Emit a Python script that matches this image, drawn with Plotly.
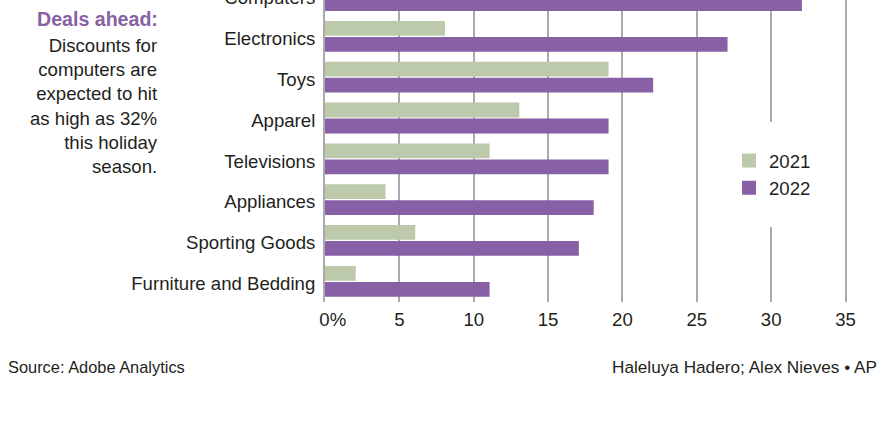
import plotly.graph_objects as go

# ---------------- data ----------------
categories = ["Furniture and Bedding", "Sporting Goods", "Appliances", "Televisions",
              "Apparel", "Toys", "Electronics", "Computers"]
values_2021 = [2, 6, 4, 11, 13, 19, 8, 14]
values_2022 = [11, 17, 18, 19, 19, 22, 27, 32]
x_tickvals = [0, 5, 10, 15, 20, 25, 30, 35]
x_ticktext = ["\u00a0\u00a0\u00a00%", "5", "10", "15", "20", "25", "30", "35"]

# ---------------- style ----------------
GREEN = "#bdc9ab"
PURPLE = "#8760a5"
GRID = "#a9a9ae"
TEXT = "#231f20"
FONT = "Liberation Sans, Arial, Helvetica, sans-serif"

W, H = 883, 443
L, R, T, B = 325, 36, 0, 141
plot_w = W - L - R
plot_h = H - T - B

pitch = 40.83                    # px per category
y_lo = -0.507
y_hi = y_lo + plot_h / pitch
lab_off = 0.3                    # helper offset for label axis


def xp(px):
    return (px - L) / plot_w


def yp(py):
    return (T + plot_h - py) / plot_h


fig = go.Figure()
fig.add_trace(go.Bar(y=categories, x=values_2022, name="2022", orientation="h",
                     marker=dict(color=PURPLE, line=dict(color=PURPLE, width=2))))
fig.add_trace(go.Bar(y=categories, x=values_2021, name="2021", orientation="h",
                     marker=dict(color=GREEN, line=dict(color=GREEN, width=2))))
# carrier for the category-label axis (no marks)
fig.add_trace(go.Scatter(x=[None], y=[None], yaxis="y2", mode="markers",
                         showlegend=False, hoverinfo="skip"))

fig.update_layout(
    width=W, height=H,
    margin=dict(l=L, r=R, t=T, b=B, pad=0, autoexpand=False),
    paper_bgcolor="white", plot_bgcolor="white",
    barmode="group", bargap=0.216, bargroupgap=0.2,
    font=dict(family=FONT, size=18.6, color=TEXT),
    showlegend=True,
    legend=dict(traceorder="reversed", x=xp(709), xanchor="left", y=yp(122), yanchor="top",
                bgcolor="white", bordercolor="white", borderwidth=20,
                font=dict(family=FONT, size=18.6, color=TEXT)),
    xaxis=dict(range=[0, 35.1], tickvals=x_tickvals, ticktext=x_ticktext, automargin=False,
               showgrid=True, gridcolor=GRID, gridwidth=2, zeroline=False,
               showline=False, ticks="outside", ticklen=1, tickcolor="rgba(0,0,0,0)",
               tickfont=dict(family=FONT, size=18.6, color=TEXT), fixedrange=True),
    yaxis=dict(type="category", categoryorder="array", categoryarray=categories,
               range=[y_lo, y_hi], showticklabels=False, showgrid=False, automargin=False,
               zeroline=False, showline=True, linecolor=GRID, linewidth=2, ticks=""),
    yaxis2=dict(overlaying="y", anchor="x", side="left", type="linear", automargin=False,
                range=[y_lo + lab_off, y_hi + lab_off],
                tickvals=list(range(len(categories))), ticktext=categories,
                ticklabelshift=-int(round(lab_off * pitch - 2)),
                ticklabeloverflow="allow",
                showgrid=False, zeroline=False, showline=False,
                ticks="outside", ticklen=5, tickcolor="rgba(0,0,0,0)",
                tickfont=dict(family=FONT, size=18.6, color=TEXT)),
)

annotations = [
    dict(text="<b>Deals ahead:</b>", x=xp(160), y=yp(18.5), xanchor="right", yanchor="middle",
         font=dict(family=FONT, size=19.6, color=PURPLE), align="right"),
    dict(text="Discounts for<br>computers are<br>expected to hit<br>as high as 32%<br>this holiday<br>season.",
         x=xp(160), y=yp(106), xanchor="right", yanchor="middle", align="right",
         font=dict(family=FONT, size=18.6, color=TEXT)),
    dict(text="Source: Adobe Analytics", x=xp(6), y=yp(367), xanchor="left", yanchor="middle",
         font=dict(family=FONT, size=16.4, color=TEXT)),
    dict(text="Haleluya Hadero; Alex Nieves \u2022 AP", x=xp(879), y=yp(367), xanchor="right",
         yanchor="middle", font=dict(family=FONT, size=17.2, color=TEXT)),
]
for a in annotations:
    a.update(xref="paper", yref="paper", showarrow=False)
fig.update_layout(annotations=annotations)

fig.write_html("out.html")
